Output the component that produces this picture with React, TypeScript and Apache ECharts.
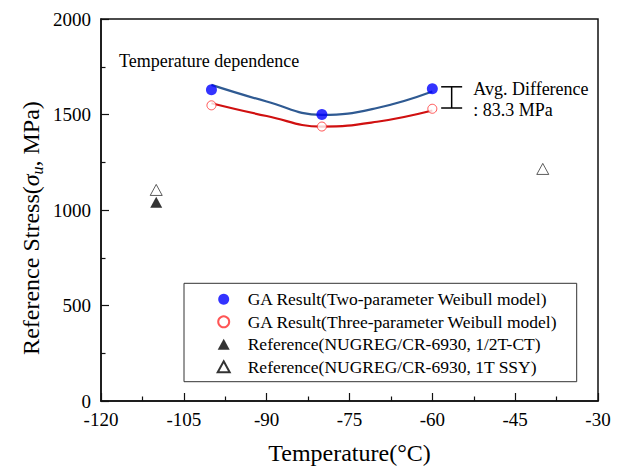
import React, { useEffect, useRef } from "react";
import * as echarts from "echarts";

// Measured GA results (°C, MPa)
const gaTemps = [-100, -80, -60];
const twoParamStress = [1630, 1500, 1635];
const threeParamStress = [1548, 1437, 1530];

// Fitted temperature-dependence curves
const fitTemps = [-100, -90, -80, -70, -60];
const twoParamFit = [1655, 1568, 1498, 1534, 1620];
const threeParamFit = [1559, 1492, 1437, 1462, 1521];

// NUREG/CR-6930 reference values
const halfTCTTemps = [-110];
const halfTCTStress = [1040];
const oneTSSYTemps = [-110, -40];
const oneTSSYStress = [1105, 1215];

// Average difference bracket: x, top, bottom, cap half-width
const diffBracket = [-56.5, 1645, 1534, 1.9];

const xTicks = { min: -120, max: -30, interval: 15 };
const yTicks = { min: 0, max: 2000, interval: 500 };

const FONT = "Liberation Serif";

const pairs = (xs: number[], ys: number[]) => xs.map((x, i) => [x, ys[i]]);

export default function App() {
  const ref = useRef<HTMLDivElement>(null);

  useEffect(() => {
    document.body.style.margin = "0";
    const chart = echarts.init(ref.current!, null, { renderer: "svg" });
    const axisCommon = {
      axisLine: { show: true, onZero: false, lineStyle: { color: "#111", width: 1.5 } },
      axisTick: { show: true, inside: true, length: 8, lineStyle: { color: "#111", width: 1.2 } },
      minorTick: { show: true, splitNumber: 2, length: 4.5, lineStyle: { color: "#111", width: 1.2 } },
      splitLine: { show: false },
      minorSplitLine: { show: false },
    };
    const tickLabel = (margin: number) => ({
      fontFamily: FONT,
      fontSize: 19,
      color: "#000",
      margin,
      formatter: (v: number) => String(v),
    });
    chart.setOption({
      animation: false,
      backgroundColor: "#fff",
      textStyle: { fontFamily: FONT, color: "#000" },
      grid: {
        left: 101,
        right: 30,
        top: 19,
        bottom: 73,
        show: true,
        borderColor: "#111",
        borderWidth: 1.5,
      },
      xAxis: {
        type: "value",
        ...xTicks,
        ...axisCommon,
        axisLabel: tickLabel(9),
        name: "Temperature(°C)",
        nameLocation: "middle",
        nameGap: 40,
        nameTextStyle: { fontFamily: FONT, fontSize: 24, color: "#000" },
      },
      yAxis: {
        type: "value",
        ...yTicks,
        ...axisCommon,
        axisLabel: tickLabel(10),
      },
      legend: {
        orient: "vertical",
        left: 216.7,
        top: 289.3,
        padding: 0,
        itemWidth: 12,
        itemHeight: 11,
        itemGap: 2.5,
        symbolKeepAspect: true,
        textStyle: {
          fontFamily: FONT,
          fontSize: 17.5,
          color: "#000",
          lineHeight: 20,
          padding: [0, 0, 0, 13],
        },
        data: [
          "GA Result(Two-parameter Weibull model)",
          "GA Result(Three-parameter Weibull model)",
          "Reference(NUGREG/CR-6930, 1/2T-CT)",
          "Reference(NUGREG/CR-6930, 1T SSY)",
        ],
      },
      graphic: [
        {
          type: "rect",
          shape: { x: 184, y: 283.3, width: 392.7, height: 98.4 },
          style: { fill: "none", stroke: "#333", lineWidth: 1 },
          z: 1,
        },
        {
          type: "text",
          x: 119,
          y: 61,
          style: {
            text: "Temperature dependence",
            font: `18px ${FONT}`,
            fill: "#000",
            textVerticalAlign: "middle",
          },
        },
        {
          type: "text",
          x: 473.3,
          y: 89,
          style: {
            text: "Avg. Difference",
            font: `18px ${FONT}`,
            fill: "#000",
            textVerticalAlign: "middle",
          },
        },
        {
          type: "text",
          x: 473.3,
          y: 110,
          style: {
            text: ": 83.3 MPa",
            font: `18px ${FONT}`,
            fill: "#000",
            textVerticalAlign: "middle",
          },
        },
        {
          type: "text",
          x: 31,
          y: 228,
          rotation: Math.PI / 2,
          style: {
            text: "{n|Reference Stress(}{s|σ}{sub|u}{n|, MPa)}",
            textAlign: "center",
            textVerticalAlign: "middle",
            rich: {
              n: { fontFamily: FONT, fontSize: 24, lineHeight: 28, fill: "#000", verticalAlign: "middle" },
              s: { fontFamily: FONT, fontSize: 24, lineHeight: 28, fontStyle: "italic", fill: "#000", verticalAlign: "middle" },
              sub: { fontFamily: FONT, fontSize: 16, lineHeight: 16, fontStyle: "italic", fill: "#000", verticalAlign: "bottom" },
            },
          },
        },
      ],
      series: [
        {
          type: "line",
          name: "twoParamFit",
          data: pairs(fitTemps, twoParamFit),
          smooth: 0.45,
          showSymbol: false,
          silent: true,
          lineStyle: { color: "#2f5a92", width: 2.2 },
          z: 2,
        },
        {
          type: "line",
          name: "threeParamFit",
          data: pairs(fitTemps, threeParamFit),
          smooth: 0.45,
          showSymbol: false,
          silent: true,
          lineStyle: { color: "#d01010", width: 2.2 },
          z: 2,
        },
        {
          type: "scatter",
          name: "GA Result(Two-parameter Weibull model)",
          data: pairs(gaTemps, twoParamStress),
          symbol: "circle",
          symbolSize: 11,
          itemStyle: { color: "#0000ff" },
          z: 3,
        },
        {
          type: "scatter",
          name: "GA Result(Three-parameter Weibull model)",
          data: pairs(gaTemps, threeParamStress),
          symbol: "circle",
          symbolSize: 9,
          itemStyle: { color: "#ffffff", borderColor: "#ff2a2a", borderWidth: 1 },
          z: 3,
        },
        {
          type: "scatter",
          name: "Reference(NUGREG/CR-6930, 1/2T-CT)",
          data: pairs(halfTCTTemps, halfTCTStress),
          symbol: "triangle",
          symbolSize: [12, 11],
          symbolKeepAspect: true,
          itemStyle: { color: "#000000" },
          z: 3,
        },
        {
          type: "scatter",
          name: "Reference(NUGREG/CR-6930, 1T SSY)",
          data: pairs(oneTSSYTemps, oneTSSYStress),
          symbol: "triangle",
          symbolSize: [12, 11],
          symbolKeepAspect: true,
          itemStyle: { color: "#ffffff", borderColor: "#000000", borderWidth: 0.8 },
          z: 3,
        },
        {
          type: "custom",
          name: "diffBracket",
          silent: true,
          data: [diffBracket],
          renderItem: (_params: any, api: any) => {
            const x = api.value(0);
            const half = api.value(3);
            const top = api.coord([x, api.value(1)]);
            const bot = api.coord([x, api.value(2)]);
            const left = api.coord([x - half, api.value(1)])[0];
            const right = api.coord([x + half, api.value(1)])[0];
            const style = { stroke: "#000", lineWidth: 1.5 };
            return {
              type: "group",
              children: [
                { type: "line", shape: { x1: top[0], y1: top[1], x2: bot[0], y2: bot[1] }, style },
                { type: "line", shape: { x1: left, y1: top[1], x2: right, y2: top[1] }, style },
                { type: "line", shape: { x1: left, y1: bot[1], x2: right, y2: bot[1] }, style },
              ],
            };
          },
        },
      ],
    });
    return () => chart.dispose();
  }, []);

  return (
    <div
      ref={ref}
      style={{ position: "fixed", left: 0, top: 0, width: 628, height: 474 }}
    />
  );
}
